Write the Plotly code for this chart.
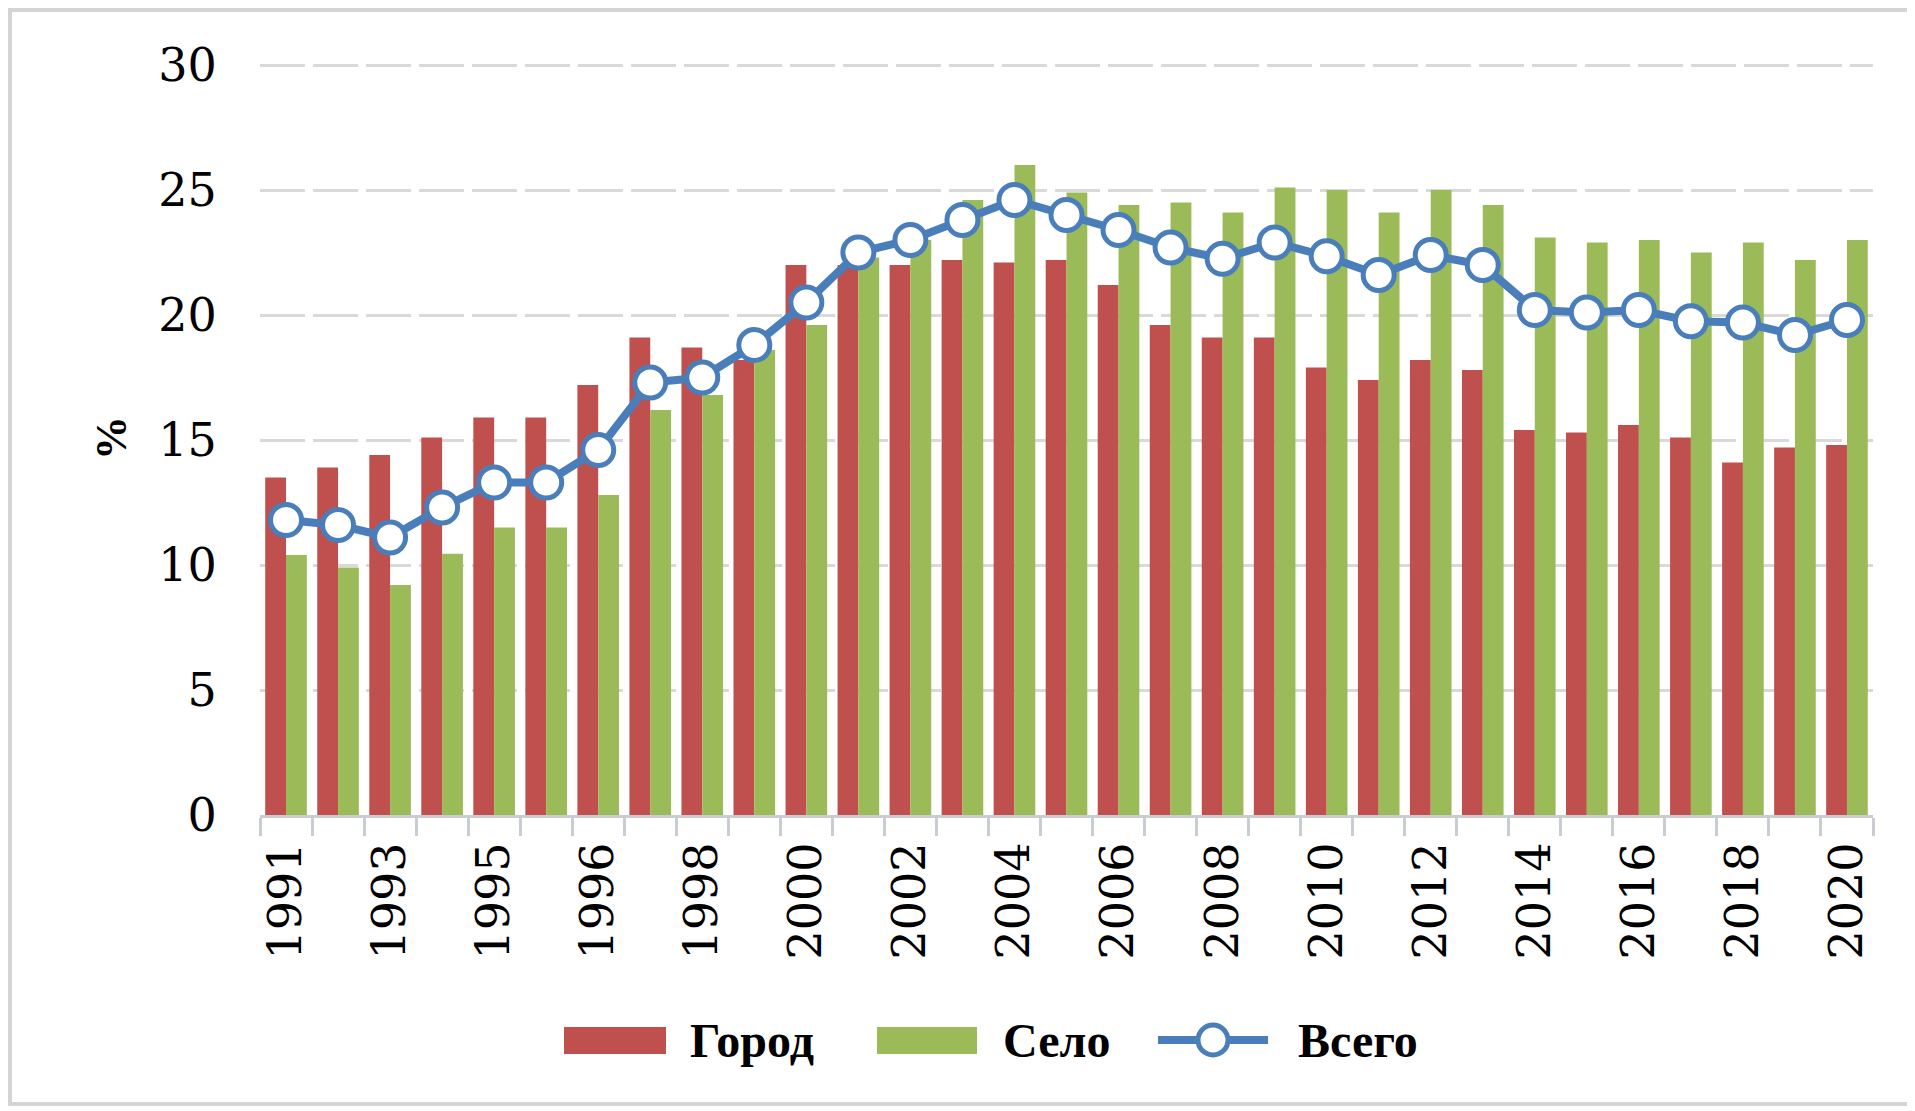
import plotly.graph_objects as go

years = ["1991", "1992", "1993", "1994", "1995", "1995", "1996", "1997", "1998", "1999",
         "2000", "2001", "2002", "2003", "2004", "2005", "2006", "2007", "2008", "2009",
         "2010", "2011", "2012", "2013", "2014", "2015", "2016", "2017", "2018", "2019", "2020"]

gorod = [13.5, 13.9, 14.4, 15.1, 15.9, 15.9, 17.2, 19.1, 18.7, 18.2,
         22.0, 22.0, 22.0, 22.2, 22.1, 22.2, 21.2, 19.6, 19.1, 19.1,
         17.9, 17.4, 18.2, 17.8, 15.4, 15.3, 15.6, 15.1, 14.1, 14.7, 14.8]

selo = [10.4, 9.9, 9.2, 10.45, 11.5, 11.5, 12.8, 16.2, 16.8, 18.6,
        19.6, 22.3, 23.0, 24.6, 26.0, 24.9, 24.4, 24.5, 24.1, 25.1,
        25.0, 24.1, 25.0, 24.4, 23.1, 22.9, 23.0, 22.5, 22.9, 22.2, 23.0]

vsego = [11.8, 11.6, 11.1, 12.3, 13.3, 13.3, 14.6, 17.3, 17.5, 18.8,
         20.5, 22.5, 23.0, 23.8, 24.6, 24.0, 23.4, 22.7, 22.25, 22.9,
         22.35, 21.6, 22.4, 22.0, 20.2, 20.1, 20.2, 19.75, 19.7, 19.2, 19.8]

series_names = ["Город", "Село", "Всего"]
y_ticks = [0, 5, 10, 15, 20, 25, 30]

RED = "#C0504D"
GREEN = "#9BBB59"
BLUE = "#4A7EBB"
SERIF = "Liberation Serif"
TICKFONT = "DejaVu Serif"

OFF = 8  # page body margin offset
W, H = 1907, 1103
L, R, T, B = 252, 42, 50, 296
PW, PH = W - L - R, H - T - B
YMAX = 30.28


def px(x):
    return (x - OFF - L) / PW


def py(y):
    return (H - B - (y - OFF)) / PH


idx = list(range(len(years)))

fig = go.Figure()
fig.add_trace(go.Bar(x=idx, y=gorod, name=series_names[0], marker=dict(color=RED, line=dict(width=0))))
fig.add_trace(go.Bar(x=idx, y=selo, name=series_names[1], marker=dict(color=GREEN, line=dict(width=0))))
fig.add_trace(go.Scatter(
    x=idx, y=vsego, name=series_names[2], mode="lines+markers",
    line=dict(color=BLUE, width=8),
    marker=dict(symbol="circle", size=31, color="white", line=dict(color=BLUE, width=5)),
))

shapes = []
annotations = []

# outer frame
shapes.append(dict(type="rect", xref="paper", yref="paper",
                   x0=px(10), x1=px(1940), y0=py(1104), y1=py(10),
                   line=dict(color="#d4d4d4", width=4), fillcolor="rgba(0,0,0,0)", layer="below"))

# custom legend
leg_y = 1040
shapes.append(dict(type="rect", xref="paper", yref="paper",
                   x0=px(564), x1=px(666), y0=py(1054), y1=py(1027),
                   fillcolor=RED, line=dict(width=0)))
shapes.append(dict(type="rect", xref="paper", yref="paper",
                   x0=px(877), x1=px(977), y0=py(1054), y1=py(1027),
                   fillcolor=GREEN, line=dict(width=0)))
shapes.append(dict(type="line", xref="paper", yref="paper",
                   x0=px(1158), x1=px(1268), y0=py(leg_y), y1=py(leg_y),
                   line=dict(color=BLUE, width=8)))
shapes.append(dict(type="circle", xref="paper", yref="paper",
                   xsizemode="pixel", ysizemode="pixel",
                   xanchor=px(1213), yanchor=py(leg_y),
                   x0=-15, x1=15, y0=-15, y1=15,
                   fillcolor="white", line=dict(color=BLUE, width=5)))

for name, xl in zip(series_names, [688, 1001, 1296]):
    annotations.append(dict(xref="paper", yref="paper", x=px(xl), y=py(leg_y),
                            xanchor="left", yanchor="middle", showarrow=False,
                            text="<b>%s</b>" % name,
                            font=dict(family=SERIF, size=48, color="black")))

# y-axis title
annotations.append(dict(xref="paper", yref="paper", x=px(111), y=py(438),
                        xanchor="center", yanchor="middle", showarrow=False,
                        text="<b>%</b>", textangle=-90,
                        font=dict(family=SERIF, size=44, color="black")))

fig.update_layout(
    width=W, height=H,
    margin=dict(l=L, r=R, t=T, b=B),
    paper_bgcolor="white", plot_bgcolor="white",
    barmode="group", bargap=0.2, bargroupgap=0,
    showlegend=False,
    shapes=shapes, annotations=annotations,
    font=dict(family=SERIF, color="black"),
)

fig.update_xaxes(
    range=[-0.5, len(years) - 0.5],
    tickmode="array", tickvals=idx[::2], ticktext=years[::2],
    tickangle=-90, tickfont=dict(family=TICKFONT, size=46, color="black"),
    ticks="outside", ticklen=6, tickcolor="rgba(0,0,0,0)",
    showgrid=False, zeroline=False,
    showline=True, linecolor="#c9ccd3", linewidth=3,
    minor=dict(tickmode="array", tickvals=[i - 0.5 for i in range(len(years) + 1)],
               ticks="outside", ticklen=18, tickcolor="#c9ccd3", tickwidth=3, showgrid=False),
)

fig.update_yaxes(
    range=[0, YMAX], tickmode="array", tickvals=y_ticks,
    tickfont=dict(family=TICKFONT, size=46, color="black"),
    ticks="outside", ticklen=33, tickcolor="rgba(0,0,0,0)",
    showgrid=True, gridcolor="#d9d9d9", gridwidth=3, griddash="45px,8px",
    zeroline=False, showline=False,
)

fig.write_html("out.html")
